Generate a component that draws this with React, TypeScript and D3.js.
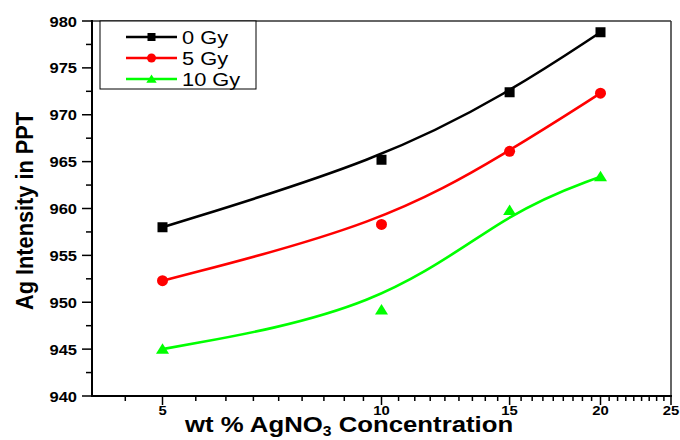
import React from "react";
import * as d3 from "d3";

const concentrations = [5, 10, 15, 20];
const gy0 = [958.0, 965.2, 972.4, 978.8];
const gy5 = [952.3, 958.3, 966.1, 972.3];
const gy10 = [945.0, 949.2, 959.8, 963.4];
const seriesNames = ["0 Gy", "5 Gy", "10 Gy"];
const xTicks = [5, 10, 15, 20, 25];
const yTicks = [940, 945, 950, 955, 960, 965, 970, 975, 980];

const W = 680, H = 440;
const L = 92, R = 671, T = 21, B = 396;
const FONT = "Arial, 'Liberation Sans', Helvetica, sans-serif";

export default function App() {
  const x = d3.scaleLog().domain([4, 25]).range([L, R]);
  const y = d3.scaleLinear().domain([940, 980]).range([B, T]);

  const xMinor: number[] = [];
  for (let k = -2; k <= 40; k++) {
    const v = 5 + (5 * k) / 9;
    if (v > 4 && v < 25 && k % 9 !== 0) xMinor.push(v);
  }
  const yMinor = d3.range(942.5, 980, 5);

  const line = d3
    .line<[number, number]>()
    .x((d) => x(d[0]))
    .y((d) => y(d[1]))
    .curve(d3.curveBasis);

  const series = [
    { name: seriesNames[0], vals: gy0, color: "#000000", shape: "square" },
    { name: seriesNames[1], vals: gy5, color: "#ff0000", shape: "circle" },
    { name: seriesNames[2], vals: gy10, color: "#00ff00", shape: "triangle" },
  ];

  const marker = (shape: string, cx: number, cy: number, color: string, s: number, key: any) => {
    if (shape === "square")
      return <rect key={key} x={cx - s / 2} y={cy - s / 2} width={s} height={s} fill={color} />;
    if (shape === "circle") return <circle key={key} cx={cx} cy={cy} r={s / 2 + 0.5} fill={color} />;
    const w = s * 1.3, h = s * 1.05;
    return (
      <path
        key={key}
        d={`M${cx},${cy - h * 0.55} L${cx + w / 2},${cy + h * 0.45} L${cx - w / 2},${cy + h * 0.45} Z`}
        fill={color}
      />
    );
  };

  return (
    <svg width={W} height={H} style={{ position: "absolute", left: 0, top: 0, background: "#fff" }} fontFamily={FONT}>
      <rect x={0} y={0} width={W} height={H} fill="#fff" />
      {/* frame top/right */}
      <line x1={L} x2={R} y1={T} y2={T} stroke="#333" strokeWidth={1.5} />
      <line x1={R} x2={R} y1={T} y2={B} stroke="#333" strokeWidth={1.5} />

      {/* curves */}
      {series.map((s, i) => (
        <path
          key={"l" + i}
          d={line(concentrations.map((c, j) => [c, s.vals[j]] as [number, number])) || ""}
          fill="none"
          stroke={s.color}
          strokeWidth={2.6}
        />
      ))}
      {series.map((s, i) =>
        concentrations.map((c, j) => marker(s.shape, x(c), y(s.vals[j]), s.color, 10, `m${i}-${j}`))
      )}

      {/* y axis */}
      <line x1={L} x2={L} y1={T - 1} y2={B + 1} stroke="#000" strokeWidth={2} />
      {yTicks.map((t) => (
        <g key={"yt" + t}>
          <line x1={L - 10} x2={L} y1={y(t)} y2={y(t)} stroke="#000" strokeWidth={1.5} />
          <text
            transform={`translate(${L - 15},${y(t) + 5.5}) scale(1.1,1)`}
            textAnchor="end"
            fontSize={15}
            fontWeight="bold"
          >
            {t}
          </text>
        </g>
      ))}
      {yMinor.map((t) => (
        <line key={"ym" + t} x1={L - 6} x2={L} y1={y(t)} y2={y(t)} stroke="#000" strokeWidth={1.5} />
      ))}

      {/* x axis */}
      <line x1={L - 1} x2={R + 1} y1={B} y2={B} stroke="#000" strokeWidth={2} />
      {xTicks.map((t) => (
        <g key={"xt" + t}>
          <line x1={x(t)} x2={x(t)} y1={B} y2={B + 9} stroke="#000" strokeWidth={1.5} />
          <text
            transform={`translate(${x(t)},${B + 18.5}) scale(1.1,1)`}
            textAnchor="middle"
            fontSize={13.5}
            fontWeight="bold"
          >
            {t}
          </text>
        </g>
      ))}
      {xMinor.map((t, i) => (
        <line key={"xm" + i} x1={x(t)} x2={x(t)} y1={B} y2={B + 5} stroke="#000" strokeWidth={1.5} />
      ))}

      {/* axis titles */}
      <text
        transform={`translate(33,211) rotate(-90)`}
        textAnchor="middle"
        fontSize={23}
        fontWeight="bold"
        textLength={198}
        lengthAdjust="spacingAndGlyphs"
      >
        Ag Intensity in PPT
      </text>
      <text transform={`translate(185,432) scale(1.12,1)`} fontSize={23} fontWeight="bold">
        wt % AgNO
        <tspan fontSize={14} dy={4}>3</tspan>
        <tspan dy={-4}> Concentration</tspan>
      </text>

      {/* legend */}
      <rect x={100} y={T} width={156} height={68} fill="#fff" stroke="#000" strokeWidth={1} />
      {series.map((s, i) => {
        const ly = 37 + i * 21;
        return (
          <g key={"lg" + i}>
            <line x1={126} x2={177} y1={ly} y2={ly} stroke={s.color} strokeWidth={2.6} />
            {marker(s.shape, 151.5, ly, s.color, 8, "lm" + i)}
            <text transform={`translate(182,${ly + 7}) scale(1.15,1)`} fontSize={19}>
              {s.name}
            </text>
          </g>
        );
      })}
    </svg>
  );
}
